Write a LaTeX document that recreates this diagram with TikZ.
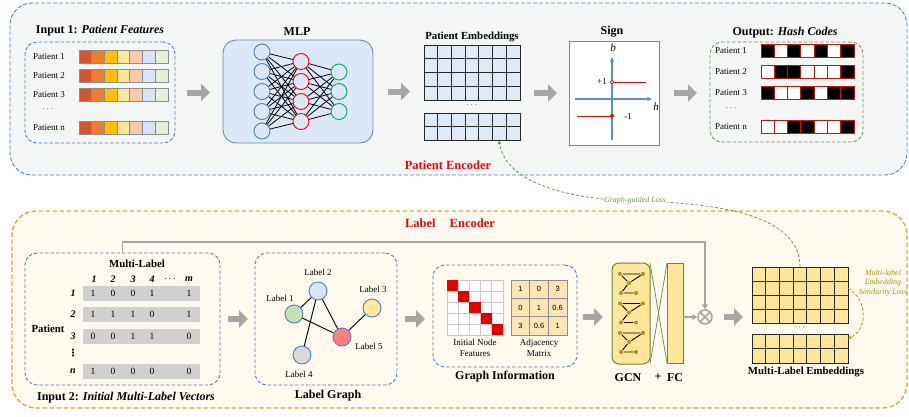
\documentclass[tikz,border=0pt]{standalone}
\usepackage{fontspec}
\setmainfont{Liberation Serif}
\setsansfont{Liberation Sans}
\newfontfamily\symfont{DejaVu Sans}
\usetikzlibrary{arrows.meta}

% palette
\definecolor{topbg}{HTML}{F4F6F6}
\definecolor{botbg}{HTML}{FDF9EE}
\definecolor{dashblue}{HTML}{4F81BD}
\definecolor{dashgold}{HTML}{D4AC48}
\definecolor{dashgreen}{HTML}{6E9A4A}
\definecolor{mlpfill}{HTML}{DCE8F5}
\definecolor{mlpedge}{HTML}{6A8DB8}
\definecolor{embblue}{HTML}{DEEBF7}
\definecolor{embyellow}{HTML}{FFE699}
\definecolor{arrowgray}{HTML}{A6A6A6}
\definecolor{hashred}{HTML}{D01010}
\definecolor{encred}{HTML}{FF0000}
\definecolor{lossgold}{HTML}{B8901A}
\definecolor{gcngreen}{HTML}{5E8C3A}
\definecolor{dotgold}{HTML}{BF9000}
\definecolor{matgray}{HTML}{D0D0D0}
\definecolor{adjfill}{HTML}{FBE5B5}
\definecolor{featA}{HTML}{D4562A}
\definecolor{featB}{HTML}{ED7D31}
\definecolor{featC}{HTML}{FFC000}
\definecolor{featD}{HTML}{FFE699}
\definecolor{featE}{HTML}{F8CBAD}
\definecolor{featF}{HTML}{DAE3F3}
\definecolor{featG}{HTML}{E2F0D9}
\definecolor{featedge}{HTML}{8C8C8C}
\definecolor{neuronblue}{HTML}{4F7FB8}
\definecolor{neurongreen}{HTML}{00B050}
\definecolor{signedge}{HTML}{6A8DB8}
\definecolor{axisblue}{HTML}{5B8BD0}
\definecolor{lone}{HTML}{C5E0B4}
\definecolor{ltwo}{HTML}{DAE3F3}
\definecolor{lthree}{HTML}{FFE699}
\definecolor{lfour}{HTML}{D9D9D9}
\definecolor{lfive}{HTML}{FF7C80}

% grid of cells: x0, y0, columns, rows, cell width, cell height, fill, border
\newcommand\cellgrid[8]{%
  \foreach \gi in {1,...,#3}{%
    \foreach \gj in {1,...,#4}{%
      \draw[draw=#8, line width=0.9pt, fill=#7]
        ({#1+(\gi-1)*#5},{#2+(\gj-1)*#6}) rectangle ++(#5,#6);
    }%
  }%
}

\begin{document}
\begin{tikzpicture}[x=1pt,y=-1pt,
  box/.style={anchor=north west, inner sep=0pt, outer sep=0pt},
  dashbox/.style={box, draw=dashblue, dash pattern=on 3.5pt off 2pt, line width=0.9pt, rounded corners=12pt},
  title/.style={inner sep=0pt, font=\fontsize{12}{14}\selectfont\bfseries},
  subtitle/.style={inner sep=0pt, font=\fontsize{10.8}{13}\selectfont\bfseries},
  small/.style={inner sep=0pt, font=\fontsize{9}{11}\selectfont},
  enc/.style={inner sep=0pt, text=encred, font=\fontsize{12.5}{15}\selectfont\bfseries},
  bigarrow/.style={draw=arrowgray, line width=6pt, -{Triangle[length=9pt,width=17pt]}},
  graylink/.style={draw=arrowgray, line width=1.6pt},
  neuron/.style={circle, minimum size=16pt, inner sep=0pt, line width=0.9pt},
  lnode/.style={circle, minimum size=18pt, inner sep=0pt, draw=dashblue, line width=0.9pt},
  gdot/.style={circle, fill=dotgold, draw=white, line width=0.4pt, minimum size=5pt, inner sep=0pt},
]
\useasboundingbox (0,0) rectangle (909,416);

% ---------------- encoder panels ----------------
\node[box, draw=dashblue, fill=topbg, dash pattern=on 4pt off 2pt, line width=0.9pt,
      rounded corners=22pt, minimum width=897pt, minimum height=172pt] (penc) at (10,3) {};
\node[box, draw=dashgold, fill=botbg, dash pattern=on 4.5pt off 2.5pt, line width=1.4pt,
      rounded corners=24pt, minimum width=895pt, minimum height=197pt] (lenc) at (12,211) {};
\node[enc] (t-penc) at (448,165) {Patient Encoder};
\node[enc] (t-lenc) at (450,223) {Label\hspace{14pt}Encoder};

% ---------------- input 1 ----------------
\node[title] (t-in1) at (100,31) {Input 1: \textit{Patient Features}};
\node[dashbox, minimum width=150pt, minimum height=101pt] (in1) at (25,42) {};
\foreach \lab/\yy [count=\r] in {Patient 1/56.5, Patient 2/75.5, Patient 3/94.5, Patient n/128} {
  \node[small] (pf-\r) at (49,\yy) {\lab};
  \foreach \c [count=\k] in {featA,featB,featC,featD,featE,featF,featG} {
    \draw[draw=featedge, line width=0.8pt, fill=\c] ({79+(\k-1)*12.7},{\yy-6.5}) rectangle ++(12.7,13);
  }
}
\node[small] (pf-dots) at (48,109) {$\cdots$};

% ---------------- MLP ----------------
\node[title] (t-mlp) at (297,32) {MLP};
\node[box, draw=mlpedge, fill=mlpfill, rounded corners=13pt, line width=0.9pt,
      minimum width=150pt, minimum height=103pt] (mlp) at (223,40) {};
\foreach \yy [count=\k] in {52,71.5,91.5,111.5,131} \node[neuron, draw=neuronblue] (i\k) at (262,\yy) {};
\foreach \yy [count=\k] in {61.5,81.5,101.5,121.5} \node[neuron, draw=red] (h\k) at (301,\yy) {};
\foreach \yy [count=\k] in {72,91.5,111.5} \node[neuron, draw=neurongreen] (o\k) at (339,\yy) {};
\foreach \a in {1,...,5} \foreach \b in {1,...,4} \draw[line width=0.8pt] (i\a) -- (h\b);
\foreach \a in {1,...,4} \foreach \b in {1,2,3} \draw[line width=0.8pt] (h\a) -- (o\b);

% ---------------- patient embeddings ----------------
\node[subtitle] (t-pemb) at (472,37) {Patient Embeddings};
\node[box, minimum width=96pt, minimum height=55pt] (pemb) at (424,45) {};
\node[box, minimum width=96pt, minimum height=27.5pt] (pemb2) at (424,113) {};
\cellgrid{424}{45}{7}{4}{13.714}{13.75}{embblue}{black!85}
\cellgrid{424}{113}{7}{2}{13.714}{13.75}{embblue}{black!85}
\node[small] (pemb-dots) at (472,105) {$\cdots$};

% ---------------- sign ----------------
\node[title] (t-sign) at (612,32) {Sign};
\node[box, draw=signedge, fill=white, line width=1pt, minimum width=90pt, minimum height=104pt] (sign) at (569,41) {};
\draw[axisblue, line width=1.2pt, -{Stealth[length=5pt,width=4.5pt]}] (612,140) -- (612,57);
\draw[axisblue, line width=1.2pt, -{Stealth[length=5pt,width=4.5pt]}] (575,99) -- (652,99);
\node[inner sep=0pt, font=\fontsize{11}{13}\selectfont\itshape] (sb) at (613,48) {b};
\node[inner sep=0pt, font=\fontsize{11}{13}\selectfont\itshape] (sh) at (656,107) {h};
\draw[red, line width=1pt] (612,82) -- (646,82);
\draw[red, line width=1pt] (577,116) -- (612,116);
\draw[red, fill=white, line width=0.7pt] (612,82) circle[radius=1.8pt];
\fill[red] (612,116) circle[radius=2pt];
\node[small] (sp1) at (602,82) {+1};
\node[small] (sm1) at (628,117) {-1};

% ---------------- hash codes ----------------
\node[title] (t-out) at (785,33) {Output: \textit{Hash Codes}};
\node[box, draw=dashgreen, dash pattern=on 3.5pt off 2pt, line width=0.9pt, rounded corners=12pt,
      minimum width=153pt, minimum height=100pt] (out) at (710,42) {};
\foreach \lab/\yy/\bits [count=\r] in {Patient 1/51/{1,0,1,0,1,0,1}, Patient 2/72/{0,1,1,0,0,0,1},
                                      Patient 3/93/{1,0,0,1,0,1,1}, Patient n/127/{0,0,1,1,0,0,1}} {
  \node[small] (hc-\r) at (731,\yy) {\lab};
  \foreach \b [count=\k] in \bits {
    \ifnum\b=1\relax\def\cf{black}\else\def\cf{white}\fi
    \draw[draw=hashred, line width=1pt, fill=\cf] ({761+(\k-1)*13.3},{\yy-6.5}) rectangle ++(13.3,13);
  }
}
\node[small] (hc-dots) at (731,108) {$\cdots$};

% top row arrows
\draw[bigarrow] ([xshift=12pt]in1.east) -- ([xshift=-13pt]in1.east -| mlp.west);
\draw[bigarrow] ([xshift=15pt]mlp.east) -- ([xshift=-14pt]mlp.east -| pemb.west);
\draw[bigarrow] ([xshift=14pt]pemb.east |- sign.west) -- ([xshift=-12pt]sign.west);
\draw[bigarrow] ([xshift=15pt]sign.east) -- ([xshift=-13pt]sign.east -| out.west);

% ---------------- input 2 ----------------
\node[dashbox, minimum width=195pt, minimum height=132pt] (in2) at (25,253) {};
\node[subtitle] (t-ml) at (137,264) {Multi-Label};
\node[subtitle] (t-pat) at (48,329) {Patient};
\foreach \c/\xx [count=\k] in {1/94,2/113,3/133,4/152,$\cdots$/170,m/189}
  \node[inner sep=0pt, font=\fontsize{10}{12}\selectfont\bfseries\itshape] (mh-\k) at (\xx,279) {\c};
\foreach \rl/\yy/\vals [count=\r] in {1/293.5/{1,0,0,1,1}, 2/314/{1,1,1,0,1}, 3/336/{0,0,1,1,0}, n/371/{1,0,0,0,0}} {
  \fill[matgray] (83,{\yy-7.5}) rectangle (200,{\yy+7.5});
  \node[inner sep=0pt, font=\fontsize{10}{12}\selectfont\bfseries\itshape] (mr-\r) at (73,\yy) {\rl};
  \foreach \v [count=\k] in \vals {
    \pgfmathparse{{93,113,133,152,189}[\k-1]}
    \node[inner sep=0pt, font=\fontsize{9.5}{11}\selectfont] (mv-\r-\k) at (\pgfmathresult,\yy) {\v};
  }
}
\node[inner sep=0pt, font=\symfont\fontsize{10}{12}\selectfont\bfseries] (mr-dots) at (73,353) {⋮};
\node[title] (t-in2) at (126,398) {Input 2: \textit{Initial Multi-Label Vectors}};

% ---------------- label graph ----------------
\node[dashbox, minimum width=142pt, minimum height=132pt] (lg) at (255,253) {};
\node[title] (t-lg) at (328,396) {Label Graph};
\node[lnode, fill=ltwo] (l2) at (318,291) {};
\node[lnode, fill=lone] (l1) at (294,314) {};
\node[lnode, fill=lthree] (l3) at (372,308) {};
\node[lnode, fill=lfive] (l5) at (342,337) {};
\node[lnode, fill=lfour] (l4) at (302,355) {};
\foreach \a/\b in {l2/l1, l2/l4, l2/l5, l1/l5, l3/l5} \draw[line width=0.9pt] (\a) -- (\b);
\node[small] (lt2) at (318,272) {Label 2};
\node[small] (lt1) at (280,298) {Label 1};
\node[small] (lt3) at (373,289) {Label 3};
\node[small] (lt5) at (369,346) {Label 5};
\node[small] (lt4) at (299,374) {Label 4};

% ---------------- graph information ----------------
\node[dashbox, minimum width=144pt, minimum height=102pt] (gi) at (433,265) {};
\node[title] (t-gi) at (505,377) {Graph Information};
\cellgrid{447}{280}{5}{5}{11.2}{11}{white}{black!22}
\foreach \k in {0,...,4} \fill[red!90!black] ({447+\k*11.2},{280+\k*11}) rectangle ++(11.2,11);
\node[small, align=center, font=\fontsize{9}{11.5}\selectfont] (t-inf) at (475,348) {Initial Node\\Features};
\cellgrid{511}{280}{3}{3}{18.67}{18.33}{adjfill}{black!45}
\foreach \row [count=\r] in {{1,0,3},{0,1,0.6},{3,0.6,1}} {
  \foreach \v [count=\c] in \row
    \node[inner sep=0pt, font=\sffamily\fontsize{7.5}{9}\selectfont] (adj-\r-\c) at ({511+(\c-0.5)*18.67},{280+(\r-0.5)*18.33}) {\v};
}
\node[small, align=center, font=\fontsize{9}{11.5}\selectfont] (t-adj) at (539,348) {Adjacency\\Matrix};

% ---------------- GCN + FC ----------------
\node[box, draw=gcngreen, fill=embyellow, rounded corners=7pt, line width=1pt,
      minimum width=38pt, minimum height=101pt] (gcn) at (612,263) {};
\node[box, draw=gcngreen, fill=embyellow, line width=1pt,
      minimum width=16pt, minimum height=100pt] (fc) at (667,263) {};
\draw[gcngreen, line width=0.7pt] (gcn.north east) -- (fc.south west);
\draw[gcngreen, line width=0.7pt] (gcn.south east) -- (fc.north west);
\foreach \dy [count=\m] in {0,29.5,59} {
  \draw[line width=0.9pt] (620,{274+\dy}) -- (643,{274+\dy}) -- (629,{283+\dy}) -- cycle
                          (629,{283+\dy}) -- (621,{293+\dy}) -- (636,{293+\dy});
  \foreach \px/\py [count=\k] in {620/274,643/274,629/283,621/293,636/293}
    \node[gdot] (g-\m-\k) at (\px,{\py+\dy}) {};
}
\node[title] (t-gcn) at (628,378) {GCN};
\node[title] (t-plus) at (658,377) {+};
\node[title] (t-fc) at (675,378) {FC};

% ---------------- fusion ----------------
\node[circle, draw=arrowgray, line width=1.5pt, minimum size=14pt, inner sep=0pt] (otimes) at (705,317) {};
\draw[arrowgray, line width=1.5pt] (otimes.north west) -- (otimes.south east)
                                   (otimes.north east) -- (otimes.south west);
\draw[graylink, -{Triangle[length=5pt,width=6pt]}] (in2.north) -- ++(0,-11) -| (otimes.north);
\draw[graylink, -{Triangle[length=5pt,width=6pt]}] (fc.east |- otimes.west) -- (otimes.west);

% ---------------- multi-label embeddings ----------------
\node[box, minimum width=96pt, minimum height=56pt] (mle) at (752,267) {};
\node[box, minimum width=96pt, minimum height=29pt] (mle2) at (752,334) {};
\cellgrid{752}{267}{7}{4}{13.714}{14}{embyellow}{black!85}
\cellgrid{752}{334}{7}{2}{13.714}{14.5}{embyellow}{black!85}
\node[small] (mle-dots) at (800,327) {$\cdots$};
\node[subtitle] (t-mle) at (806,372) {Multi-Label Embeddings};

% bottom row arrows
\draw[bigarrow] ([xshift=8pt]in2.east) -- ([xshift=-7pt]in2.east -| lg.west);
\draw[bigarrow] ([xshift=8pt]lg.east) -- ([xshift=-8pt]lg.east -| gi.west);
\draw[bigarrow] ([xshift=6pt]gi.east |- otimes.west) -- ([xshift=-9pt]gcn.west |- otimes.west);
\draw[bigarrow] ([xshift=11pt]otimes.east) -- ([xshift=-9pt]otimes.east -| mle.west);

% ---------------- losses ----------------
\draw[dashgreen, line width=0.8pt, dash pattern=on 3pt off 2pt, -{Stealth[length=4pt,width=4pt]}]
  (mle.north) .. controls (800,215) and (720,203) .. (635,201)
  node[inner sep=1.5pt, fill=white, text=dashgreen, font=\fontsize{8}{10}\selectfont\itshape] (t-ggl) {Graph-guided Loss}
  .. controls (560,199) and (505,180) .. ([xshift=27pt]pemb2.south);
\draw[lossgold, line width=0.8pt, dash pattern=on 3pt off 2pt, -{Stealth[length=4pt,width=4pt]}]
  ([yshift=-21pt]mle.north east) .. controls (868,300) and (868,330) .. ([yshift=10pt]mle2.east);
\node[inner sep=0pt, align=center, text=lossgold, font=\fontsize{8}{9.6}\selectfont\itshape] (t-mls)
  at (883,283) {Multi-label\\Embedding\\Similarity Loss};

\end{tikzpicture}
\end{document}
